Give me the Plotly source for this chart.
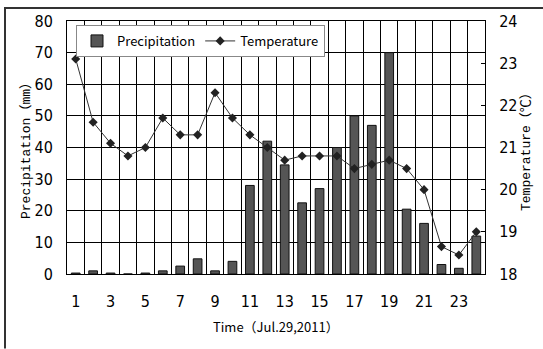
import plotly.graph_objects as go

# Hourly observations, Jul. 29 2011
hours = list(range(1, 25))
precipitation = [0.3, 1.0, 0.3, 0.0, 0.3, 1.0, 2.5, 4.8, 1.0, 4.0,
                 28.0, 42.0, 34.5, 22.5, 27.0, 40.0, 50.0, 47.0, 70.0, 20.5,
                 16.0, 3.0, 1.8, 12.0]
temperature = [23.1, 21.6, 21.1, 20.8, 21.0, 21.7, 21.3, 21.3, 22.3, 21.7,
               21.3, 21.0, 20.7, 20.8, 20.8, 20.8, 20.5, 20.6, 20.7, 20.5,
               20.0, 18.65, 18.45, 19.0]
x_ticks = [1, 3, 5, 7, 9, 11, 13, 15, 17, 19, 21, 23]
hour_edges = [h - 0.5 for h in hours] + [hours[-1] + 0.5]

W, H = 543, 349
L, R, T, B = 67, 485, 19, 274

TICK_FONT = "DejaVu Sans Condensed, Liberation Sans, sans-serif"
JP = "Noto Sans CJK JP, sans-serif"
MONO = "Liberation Mono, Noto Sans CJK JP, monospace"

fig = go.Figure()
fig.add_trace(go.Bar(
    x=hours, y=precipitation, name="Precipitation",
    width=0.5, marker=dict(color="#555555", line=dict(color="#111111", width=1)),
    yaxis="y",
))
fig.add_trace(go.Scatter(
    x=hours, y=temperature, name="Temperature", mode="lines+markers",
    line=dict(color="#333333", width=1),
    marker=dict(symbol="diamond", size=7, color="#222222"),
    yaxis="y2",
))


def px_x(p):
    return (p - L) / (R - L)


def px_y(p):
    return (B - p) / (B - T)


# outer frame of the figure (left and top edges)
frame = dict(type="line", xref="paper", yref="paper",
             line=dict(color="#333333", width=2), layer="above")
fig.add_shape(x0=px_x(5), x1=px_x(5), y0=px_y(349), y1=px_y(5), **frame)
fig.add_shape(x0=px_x(4), x1=px_x(543), y0=px_y(6), y1=px_y(6), **frame)

# axis titles
title_pos = dict(xref="paper", yref="paper", showarrow=False,
                 xanchor="center", yanchor="middle")
fig.add_annotation(text="Precipitation（mm）", x=px_x(27), y=px_y(147),
                   textangle=-90, font=dict(family=MONO, size=13), **title_pos)
fig.add_annotation(text="Temperature（℃）", x=px_x(527), y=px_y(148),
                   textangle=-90, font=dict(family=MONO, size=13), **title_pos)
fig.add_annotation(text="Time（Jul.29,2011）", x=px_x(276), y=px_y(327),
                   font=dict(family=JP, size=13), **title_pos)

fig.update_layout(
    width=W, height=H,
    margin=dict(l=L, r=W - R, t=T, b=H - B),
    paper_bgcolor="white", plot_bgcolor="white",
    font=dict(family=TICK_FONT, size=16, color="black"),
    showlegend=True,
    legend=dict(
        x=px_x(76), y=px_y(23), xanchor="left", yanchor="top",
        orientation="h", bgcolor="white", bordercolor="#888888", borderwidth=1,
        font=dict(family=JP, size=13), itemwidth=30,
        traceorder="normal",
    ),
    xaxis=dict(
        range=[0.5, 24.5], tickmode="array", tickvals=x_ticks,
        ticktext=[str(v) for v in x_ticks],
        showgrid=False, zeroline=False,
        showline=True, linecolor="black", linewidth=1, mirror=True,
        ticks="", ticklabelstandoff=13,
        minor=dict(tickmode="array", tickvals=hour_edges, showgrid=True,
                   gridcolor="black", gridwidth=1, ticks=""),
    ),
    yaxis=dict(
        range=[0, 80], dtick=10, showgrid=True, gridcolor="black", gridwidth=1,
        zeroline=False, showline=True, linecolor="black", linewidth=1,
        ticks="inside", ticklen=3, tickcolor="black", ticklabelstandoff=10,
    ),
    yaxis2=dict(
        range=[18, 24], dtick=1, overlaying="y", side="right",
        showgrid=False, zeroline=False, showline=True, linecolor="black", linewidth=1,
        ticks="inside", ticklen=4, tickcolor="black", ticklabelstandoff=10,
    ),
)

fig.write_html("out.html")
